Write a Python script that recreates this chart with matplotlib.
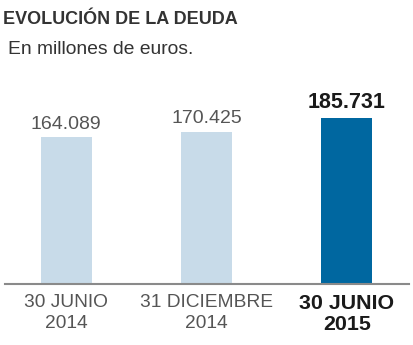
import matplotlib
matplotlib.use("Agg")
import matplotlib.pyplot as plt

plt.rcParams['font.family'] = ['Liberation Sans', 'DejaVu Sans']

title = "EVOLUCIÓN DE LA DEUDA"
subtitle = "En millones de euros."
categories = ["30 JUNIO\n2014", "31 DICIEMBRE\n2014", "30 JUNIO\n2015"]
values = [164.089, 170.425, 185.731]
value_labels = ["164.089", "170.425", "185.731"]
highlight = [False, False, True]

light = "#c8dbe9"
dark = "#0067a0"
gray_text = "#555555"

fig = plt.figure(figsize=(4.14, 3.45), dpi=100)
ax = fig.add_axes([5/414, (345-284.3)/345, 404/414, (284.3-100)/345])

x = list(range(len(values)))
colors = [dark if h else light for h in highlight]
bars = ax.bar(x, values, width=0.364, color=colors, zorder=2)

ax.set_xlim(-0.437, 2.444)
ax.set_ylim(0, 184.3/0.895)

for xi, v, lab, h in zip(x, values, value_labels, highlight):
    ax.annotate(lab, (xi, v), xytext=(0, 3.5), textcoords="offset points",
                ha="center", va="bottom",
                fontsize=15.5 if h else 14,
                fontweight="bold" if h else "normal",
                color="#1a1a1a" if h else gray_text)

for s in ["top", "right", "left"]:
    ax.spines[s].set_visible(False)
ax.spines["bottom"].set_color("#8a8a8a")
ax.spines["bottom"].set_linewidth(1.5)
ax.set_yticks([])
ax.set_xticks(x)
ax.set_xticklabels(categories)
ax.tick_params(axis="x", length=0, pad=7)
for t, h in zip(ax.get_xticklabels(), highlight):
    t.set_fontsize(15.4 if h else 13.8)
    t.set_fontweight("bold" if h else "normal")
    t.set_color("#1a1a1a" if h else gray_text)
    t.set_linespacing(1.3 if not h else 1.15)

fig.text(3/414, 1 - 20/345, title, ha="left", va="center",
         fontsize=13, fontweight="bold", color="#333333")
fig.text(8/414, 1 - 50/345, subtitle, ha="left", va="center",
         fontsize=13.9, color="#333333")

fig.savefig("out.png", dpi=100)
